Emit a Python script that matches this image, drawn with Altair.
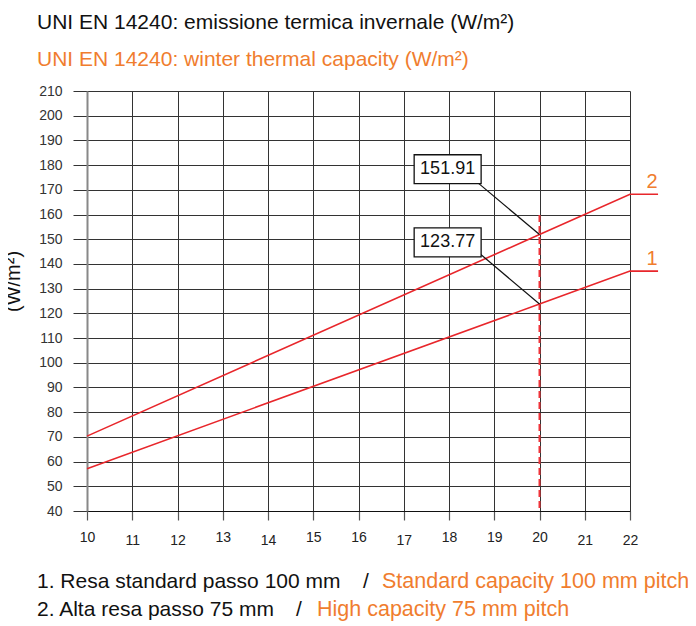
import altair as alt
import pandas as pd

# ---- data ----
x_vals = [10, 20, 22, 22.62]
series2 = [70.3, 151.91, 168.2, 168.2]   # 2. Alta resa passo 75 mm
series1 = [57.1, 123.77, 137.1, 137.1]   # 1. Resa standard passo 100 mm
x_ticks = list(range(10, 23))
y_ticks = list(range(40, 211, 10))
marker_x = 20
marker_top = 159.8
annot_values = ["151.91", "123.77"]
annot_targets = [151.91, 123.77]
annot_box_x = [17.23, 18.71]
annot_box_y = [[172.5, 184.2], [142.9, 154.6]]
annot_leader_start = [[18.64, 172.8], [18.64, 144.8]]
series_labels = ["2", "1"]
series_label_y = [168.2, 137.1]
footer_black = ["1. Resa standard passo 100 mm", "2. Alta resa passo 75 mm"]
footer_orange = ["Standard capacity 100 mm pitch", "High capacity 75 mm pitch"]

FONT = "Liberation Sans Narrow, Liberation Sans, Arial, sans-serif"
RED = "#e8262b"
ORANGE = "#f07d2e"

rows = []
for xv, a, b in zip(x_vals, series2, series1):
    rows.append({"x": xv, "y": a, "s": "2"})
    rows.append({"x": xv, "y": b, "s": "1"})
lines_df = pd.DataFrame(rows)

xs = alt.Scale(domain=[10, 22], nice=False, zero=False)
ys = alt.Scale(domain=[40, 210], nice=False, zero=False)

base_axis_x = alt.Axis(values=x_ticks, grid=True, gridColor="#333333", gridWidth=1,
                       tickColor="#555555", tickSize=9, tickWidth=1.2,
                       domainColor="#111111", domainWidth=1.2,
                       labelFont=FONT, labelFontSize=14, labelColor="#222222",
                       labelFlush=False, labelOverlap=False,
                       labelPadding={"condition": {"test": "indexof([11,12,14,17,21,22], datum.value) >= 0", "value": 13}, "value": 10},
                       title=None, format="d")
base_axis_y = alt.Axis(values=y_ticks, grid=True, gridColor="#333333", gridWidth=1,
                       tickColor="#333333", tickSize=14, tickWidth=1,
                       domainColor="#888888", domainWidth=2,
                       labelFont=FONT, labelFontSize=14, labelColor="#333333", labelPadding=11,
                       labelOverlap=False, labelFlush=False,
                       title="(W/m²)", titleFont=FONT, titleFontSize=20, titleFontWeight="normal",
                       titleColor="#111111", titleX=-74, titleY=190, titleBaseline="middle", titleAngle=-90)


def X(field):
    return alt.X(field, scale=xs, axis=base_axis_x)


def Y(field):
    return alt.Y(field, scale=ys, axis=base_axis_y)


lines = alt.Chart(lines_df).mark_line(color=RED, strokeWidth=1.6).encode(
    x=X("x:Q"), y=Y("y:Q"), detail="s:N",
)

dash_df = pd.DataFrame({"x": [marker_x], "y": [marker_top], "y2": [40]})
dash = alt.Chart(dash_df).mark_rule(color="#f0343a", strokeWidth=2, strokeDash=[7, 4]).encode(
    x=X("x:Q"), y=Y("y:Q"), y2="y2:Q")

lead_df = pd.DataFrame({
    "x": [p[0] for p in annot_leader_start],
    "y": [p[1] for p in annot_leader_start],
    "x2": [marker_x, marker_x],
    "y2": annot_targets,
})
leaders = alt.Chart(lead_df).mark_rule(color="#111111", strokeWidth=1.2).encode(
    x=X("x:Q"), y=Y("y:Q"), x2="x2:Q", y2="y2:Q")

box_df = pd.DataFrame({
    "x": [annot_box_x[0]] * 2, "x2": [annot_box_x[1]] * 2,
    "y": [b[0] for b in annot_box_y], "y2": [b[1] for b in annot_box_y],
    "yc": [(b[0] + b[1]) / 2 for b in annot_box_y],
    "xc": [(annot_box_x[0] + annot_box_x[1]) / 2] * 2,
    "t": annot_values,
})
boxes = alt.Chart(box_df).mark_rect(fill="white", stroke="#111111", strokeWidth=1.3).encode(
    x=X("x:Q"), x2="x2:Q", y=Y("y:Q"), y2="y2:Q")
box_text = alt.Chart(box_df).mark_text(font=FONT, fontSize=18, color="#111111", baseline="middle").encode(
    x=X("xc:Q"), y=Y("yc:Q"), text="t:N")

lab_df = pd.DataFrame({"x": [22.49, 22.49], "y": series_label_y, "t": series_labels})
labs = alt.Chart(lab_df).mark_text(font=FONT, fontSize=20, color=ORANGE, baseline="bottom", dy=-2).encode(
    x=X("x:Q"), y=Y("y:Q"), text="t:N")

footer_layers = []
footer_y = [497, 525]
slash_x = [276, 209]
orange_x = [295, 230]
for i in range(2):
    footer_layers.append(
        alt.Chart(pd.DataFrame({"t": [footer_black[i]]})).mark_text(
            font=FONT, fontSize=21, color="#111111", align="left", baseline="alphabetic").encode(
            x=alt.value(-50), y=alt.value(footer_y[i]), text="t:N"))
    footer_layers.append(
        alt.Chart(pd.DataFrame({"t": ["/"]})).mark_text(
            font=FONT, fontSize=21, color="#111111", align="left", baseline="alphabetic").encode(
            x=alt.value(slash_x[i]), y=alt.value(footer_y[i]), text="t:N"))
    footer_layers.append(
        alt.Chart(pd.DataFrame({"t": [footer_orange[i]]})).mark_text(
            font=FONT, fontSize=21.5, color=ORANGE, align="left", baseline="alphabetic").encode(
            x=alt.value(orange_x[i]), y=alt.value(footer_y[i]), text="t:N"))

chart = alt.layer(lines, dash, leaders, boxes, box_text, labs, *footer_layers).properties(
    width=543, height=420,
    autosize=alt.AutoSizeParams(type="none"),
    padding={"left": 79, "top": 83, "right": 58, "bottom": 111},
    title=alt.TitleParams(
        text="UNI EN 14240: emissione termica invernale (W/m²)",
        subtitle="UNI EN 14240: winter thermal capacity (W/m²)",
        anchor="start", frame="group", dx=-50, offset=14, font=FONT, fontSize=21, fontWeight="normal", color="#111111",
        subtitleFont=FONT, subtitleFontSize=21, subtitleColor=ORANGE, subtitlePadding=16,
    ),
).configure_view(stroke=None)

chart.save("out.html", embed_options={"renderer": "svg", "actions": False})
